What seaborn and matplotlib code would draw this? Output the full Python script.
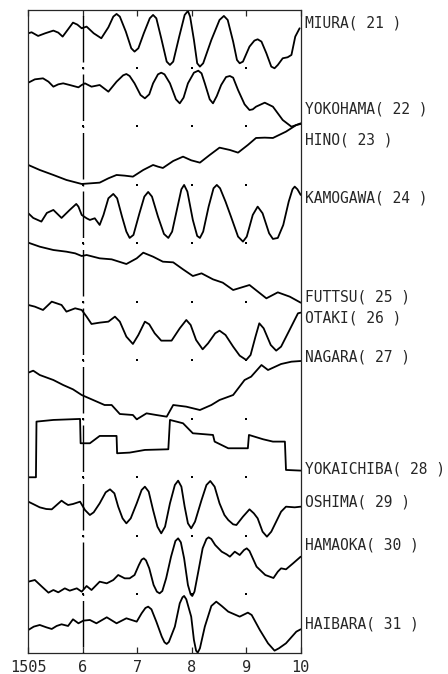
import numpy as np
import pandas as pd
import seaborn as sns
import matplotlib
matplotlib.use('Agg')
from matplotlib import pyplot as plt

# station labels printed right of each trace (top to bottom)
stations = ['MIURA( 21 )', 'YOKOHAMA( 22 )', 'HINO( 23 )', 'KAMOGAWA( 24 )',
            'FUTTSU( 25 )', 'OTAKI( 26 )', 'NAGARA( 27 )', 'YOKAICHIBA( 28 )',
            'OSHIMA( 29 )', 'HAMAOKA( 30 )', 'HAIBARA( 31 )']

# time axis: minutes after 15:00 (15:05 .. 15:10)
xticks = [5, 6, 7, 8, 9, 10]
xtick_labels = ['1505', '6', '7', '8', '9', '10']

# traces: time (min) and amplitude (counts, relative to first sample)
miura_t = [5.00, 5.06, 5.18, 5.31, 5.46, 5.55, 5.63, 5.73, 5.82, 5.90, 5.98, 6.07, 6.20, 6.34,
           6.47, 6.56, 6.62, 6.68, 6.79, 6.89, 6.95, 7.02, 7.12, 7.23, 7.29, 7.35, 7.44, 7.54,
           7.60, 7.66, 7.77, 7.87, 7.93, 7.97, 8.04, 8.10, 8.15, 8.21, 8.36, 8.51, 8.59, 8.66,
           8.76, 8.83, 8.88, 8.94, 9.06, 9.15, 9.21, 9.28, 9.37, 9.46, 9.52, 9.58, 9.67, 9.76,
           9.83, 9.90, 9.98]
miura_a = [0, 3, -8, 0, 8, 2, -10, 12, 32, 26, 15, 20, 0, -15,
           18, 50, 58, 50, 5, -45, -55, -45, 0, 45, 55, 45, -15, -85,
           -95, -85, -10, 55, 67, 50, -20, -90, -100, -90, -20, 40, 52, 40,
           -25, -80, -90, -85, -40, -22, -18, -25, -60, -100, -105, -95, -75, -72,
           -65, -10, 15]

yokohama_t = [5.00, 5.12, 5.27, 5.37, 5.46, 5.55, 5.64, 5.76, 5.92, 5.98, 6.04, 6.16, 6.31, 6.47,
              6.62, 6.74, 6.80, 6.86, 6.95, 7.06, 7.14, 7.22, 7.29, 7.38, 7.44, 7.50, 7.60, 7.71,
              7.78, 7.85, 7.93, 8.04, 8.12, 8.18, 8.24, 8.33, 8.39, 8.46, 8.54, 8.63, 8.70, 8.76,
              8.85, 8.97, 9.06, 9.12, 9.18, 9.34, 9.49, 9.67, 9.83, 9.92, 10.00]
yokohama_a = [0, 10, 13, 3, -12, -5, -2, -7, -14, -7, -2, -12, -7, -27,
              3, 22, 26, 20, -2, -37, -47, -35, -2, 25, 30, 25, -2, -50,
              -62, -45, -2, 30, 36, 28, -2, -50, -62, -40, -7, 17, 20, 15,
              -22, -65, -82, -80, -72, -60, -72, -112, -132, -127, -122]

hino_t = [5.00, 5.21, 5.46, 5.70, 5.98, 6.31, 6.47, 6.62, 6.77, 6.92, 7.11, 7.29, 7.38, 7.47,
          7.66, 7.84, 7.99, 8.15, 8.33, 8.51, 8.70, 8.85, 9.03, 9.18, 9.34, 9.49, 9.73, 9.92,
          10.00]
hino_a = [0, -15, -30, -45, -57, -53, -40, -30, -32, -35, -15, 0, -5, -9,
          12, 25, 14, 7, 30, 52, 45, 37, 60, 81, 82, 81, 100, 120,
          123]

kamogawa_t = [5.00, 5.09, 5.24, 5.34, 5.46, 5.61, 5.76, 5.88, 5.92, 5.98, 6.07, 6.13, 6.22, 6.31,
              6.38, 6.47, 6.56, 6.63, 6.72, 6.80, 6.86, 6.93, 7.04, 7.13, 7.20, 7.27, 7.38, 7.49,
              7.57, 7.64, 7.74, 7.81, 7.86, 7.92, 8.02, 8.10, 8.15, 8.21, 8.31, 8.40, 8.46, 8.52,
              8.62, 8.72, 8.85, 8.94, 9.01, 9.12, 9.21, 9.30, 9.42, 9.49, 9.58, 9.68, 9.78, 9.85,
              9.89, 9.94, 10.00]
kamogawa_a = [0, -14, -25, 1, 10, -14, 10, 28, 20, -5, -15, -20, -15, -35,
              -5, 45, 58, 45, -10, -55, -74, -65, 0, 50, 64, 50, -10, -62,
              -74, -55, 20, 72, 85, 65, -20, -68, -74, -55, 20, 75, 85, 75,
              35, -10, -70, -85, -70, -5, 20, 0, -60, -77, -74, -35, 35, 72,
              80, 72, 55]

futtsu_t = [5.00, 5.21, 5.46, 5.70, 5.86, 5.98, 6.07, 6.31, 6.53, 6.80, 6.99, 7.11, 7.29, 7.47,
            7.66, 7.84, 8.02, 8.18, 8.39, 8.57, 8.76, 9.06, 9.37, 9.58, 9.80, 10.00]
futtsu_a = [0, -12, -22, -27, -32, -40, -37, -47, -50, -64, -47, -30, -42, -57,
            -59, -80, -100, -92, -110, -120, -142, -127, -167, -149, -162, -180]

otaki_t = [5.00, 5.12, 5.27, 5.43, 5.61, 5.70, 5.86, 5.98, 6.07, 6.16, 6.31, 6.47, 6.59, 6.68,
           6.80, 6.92, 7.02, 7.14, 7.22, 7.32, 7.44, 7.63, 7.78, 7.90, 7.98, 8.08, 8.20, 8.30,
           8.43, 8.51, 8.62, 8.76, 8.88, 9.00, 9.08, 9.17, 9.24, 9.32, 9.45, 9.55, 9.64, 9.78,
           9.95, 10.00]
otaki_a = [0, -5, -15, 10, 0, -20, -10, -15, -35, -57, -53, -50, -35, -50,
           -95, -117, -90, -50, -58, -85, -107, -107, -70, -45, -60, -105, -133, -115,
           -85, -77, -90, -125, -152, -165, -150, -95, -55, -70, -120, -137, -125, -80,
           -25, -23]

nagara_t = [5.00, 5.09, 5.21, 5.46, 5.64, 5.82, 5.98, 6.19, 6.40, 6.53, 6.68, 6.92, 6.99, 7.17,
            7.35, 7.54, 7.66, 7.90, 8.15, 8.36, 8.51, 8.76, 8.97, 9.09, 9.28, 9.40, 9.64, 9.83,
            10.00]
nagara_a = [0, 6, -7, -22, -37, -50, -67, -82, -97, -97, -124, -127, -140, -122,
            -127, -132, -97, -102, -112, -97, -82, -67, -22, -12, 23, 8, 26, 33,
            35]

yokaichiba_t = [5.00, 5.14, 5.15, 5.46, 5.95, 5.96, 6.13, 6.31, 6.62, 6.63, 6.86, 7.14, 7.57, 7.60,
                7.84, 8.02, 8.39, 8.42, 8.67, 9.03, 9.05, 9.31, 9.49, 9.71, 9.73, 10.00]
yokaichiba_a = [0, 0, 167, 172, 175, 102, 102, 124, 124, 72, 74, 82, 84, 172,
                162, 132, 127, 107, 87, 87, 127, 114, 107, 107, 22, 20]

oshima_t = [5.00, 5.10, 5.21, 5.33, 5.43, 5.52, 5.61, 5.67, 5.73, 5.82, 5.95, 6.04, 6.13, 6.20,
            6.31, 6.42, 6.50, 6.58, 6.65, 6.73, 6.80, 6.88, 6.99, 7.08, 7.14, 7.21, 7.29, 7.37,
            7.44, 7.51, 7.60, 7.69, 7.75, 7.81, 7.87, 7.93, 7.99, 8.06, 8.18, 8.27, 8.34, 8.42,
            8.51, 8.60, 8.67, 8.76, 8.82, 8.94, 9.06, 9.14, 9.21, 9.30, 9.38, 9.46, 9.55, 9.64,
            9.73, 9.89, 10.00]
oshima_a = [0, -8, -17, -22, -23, -10, 3, -4, -10, -7, 0, -25, -40, -32,
            -5, 28, 37, 25, -15, -50, -65, -50, -5, 35, 45, 30, -25, -75,
            -95, -75, -5, 50, 63, 45, -15, -65, -80, -60, 5, 50, 62, 45,
            -5, -40, -55, -68, -70, -45, -23, -35, -50, -90, -105, -90, -60, -30,
            -15, -17, -15]

hamaoka_t = [5.00, 5.12, 5.25, 5.37, 5.46, 5.55, 5.67, 5.76, 5.89, 5.98, 6.07, 6.16, 6.31, 6.44,
             6.56, 6.65, 6.77, 6.86, 6.95, 7.03, 7.08, 7.12, 7.16, 7.22, 7.30, 7.36, 7.41, 7.46,
             7.53, 7.62, 7.70, 7.75, 7.80, 7.86, 7.93, 7.98, 8.01, 8.05, 8.12, 8.20, 8.27, 8.31,
             8.36, 8.43, 8.55, 8.64, 8.70, 8.79, 8.88, 8.96, 9.01, 9.06, 9.19, 9.35, 9.50, 9.58,
             9.64, 9.73, 9.86, 10.00]
hamaoka_a = [0, 5, -15, -33, -25, -32, -20, -27, -20, -30, -13, -25, 0, -5,
             5, 20, 10, 10, 20, 50, 66, 70, 64, 40, -10, -30, -35, -28,
             10, 75, 122, 130, 118, 70, -10, -38, -43, -30, 30, 100, 128, 133,
             128, 110, 90, 82, 75, 90, 80, 95, 100, 92, 45, 20, 11, 30,
             40, 37, 55, 75]

haibara_t = [5.00, 5.10, 5.21, 5.33, 5.43, 5.52, 5.61, 5.73, 5.82, 5.92, 6.01, 6.13, 6.25, 6.44,
             6.62, 6.80, 6.99, 7.08, 7.15, 7.20, 7.26, 7.35, 7.45, 7.50, 7.54, 7.58, 7.69, 7.78,
             7.83, 7.86, 7.90, 7.99, 8.04, 8.08, 8.11, 8.15, 8.24, 8.36, 8.45, 8.55, 8.67, 8.88,
             9.03, 9.10, 9.25, 9.40, 9.52, 9.60, 9.73, 9.92, 10.00]
haibara_a = [0, 10, 15, 8, 3, 12, 17, 12, 32, 20, 28, 30, 20, 38,
             20, 35, 25, 50, 66, 70, 62, 25, -20, -37, -42, -36, 10, 80,
             98, 102, 92, 40, -30, -62, -68, -55, 10, 72, 85, 72, 55, 40,
             52, 45, 0, -40, -62, -55, -40, -5, 2]

traces = [(miura_t, miura_a), (yokohama_t, yokohama_a), (hino_t, hino_a),
          (kamogawa_t, kamogawa_a), (futtsu_t, futtsu_a), (otaki_t, otaki_a),
          (nagara_t, nagara_a), (yokaichiba_t, yokaichiba_a), (oshima_t, oshima_a),
          (hamaoka_t, hamaoka_a), (haibara_t, haibara_a)]

# layout: baseline of each trace and label height (plot units), gain counts -> plot units
baselines = [619.7, 570.3, 488.0, 439.7, 410.3, 348.0, 280.3, 175.7, 151.3, 71.3, 23.0]
label_y = [630, 544, 513, 455, 356, 335, 296, 184, 151, 108, 29]
gain = 1 / 3
row_h = 58.5

rows = []
for name, (t, a), base in zip(stations, traces, baselines):
    for ti, ai in zip(t, a):
        rows.append({'station': name, 't': ti, 'y': base + ai * gain})
df = pd.DataFrame(rows)

sns.set_style('ticks')
plt.rcParams['font.family'] = ['DejaVu Sans Mono', 'DejaVu Sans']
plt.rcParams['lines.scale_dashes'] = False

fig = plt.figure(figsize=(4.48, 6.74), dpi=100)
ax = fig.add_axes([0.0632, 0.0312, 0.608, 0.954])

sns.lineplot(data=df, x='t', y='y', units='station', estimator=None, color='black',
             linewidth=1.3, legend=False, ax=ax)

# dash-dot marker line at 15:06
px = 72 / 100
ax.axvline(6, color='black', lw=1.0,
           ls=(52.5 * px, (46.5 * px, 5 * px, 2 * px, 5 * px)))

# small dots on the row boundaries
for k in range(1, 11):
    ax.plot([6, 7, 8, 9], [k * row_h] * 4, ls='none', marker='s', ms=1.6,
            color='black', mew=0)

for name, ly in zip(stations, label_y):
    ax.text(10.08, ly, name, va='center', ha='left', fontsize=10.5, clip_on=False)

ax.set_xlim(5, 10)
ax.set_ylim(0, 643)
ax.set_xticks(xticks)
ax.set_xticklabels(xtick_labels)
ax.set_yticks([])
ax.set_xlabel('')
ax.set_ylabel('')
ax.tick_params(axis='x', direction='in', top=True, length=4, width=0.9,
               labelsize=11, pad=5)
for s in ax.spines.values():
    s.set_visible(True)
    s.set_linewidth(0.9)

fig.savefig('out.png', dpi=100)
